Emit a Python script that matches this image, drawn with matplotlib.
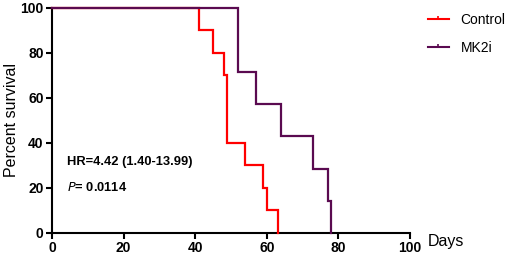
import matplotlib
matplotlib.use("Agg")
import matplotlib.pyplot as plt
from matplotlib.lines import Line2D

plt.rcParams['font.family'] = ['Liberation Sans', 'DejaVu Sans']

# Kaplan-Meier step data (days, percent survival)
control_days = [0, 41, 45, 48, 49, 54, 59, 60, 63]
control_surv = [100, 90, 80, 70, 40, 30, 20, 10, 0]
mk2i_days = [0, 52, 57, 64, 73, 77, 78]
mk2i_surv = [100, 71.4, 57.1, 42.9, 28.6, 14.3, 0]

series_names = ["Control", "MK2i"]
series_colors = ["#FF0000", "#5A0A50"]
x_ticks = [0, 20, 40, 60, 80, 100]
y_ticks = [0, 20, 40, 60, 80, 100]
hr_text = "HR=4.42 (1.40-13.99)"
p_value = "= 0.0114"

fig = plt.figure(figsize=(5.10, 2.56), dpi=100)
ax = fig.add_axes([0.102, 0.090, 0.702, 0.879])

for d, s, c in [(control_days, control_surv, series_colors[0]),
                (mk2i_days, mk2i_surv, series_colors[1])]:
    ax.step(d, s, where='post', color=c, lw=1.6, solid_joinstyle='miter', clip_on=False, zorder=3)

ax.set_xlim(0, 100)
ax.set_ylim(0, 100)
ax.set_xticks(x_ticks)
ax.set_yticks(y_ticks)
for sp in ['top', 'right']:
    ax.spines[sp].set_visible(False)
for sp in ['left', 'bottom']:
    ax.spines[sp].set_linewidth(1.5)
ax.tick_params(axis='both', width=1.5, length=4, direction='out', labelsize=10, pad=2)
for lab in ax.get_xticklabels() + ax.get_yticklabels():
    lab.set_fontweight('bold')

ax.set_ylabel("Percent survival", fontsize=11.5, labelpad=1)
fig.text(0.838, 0.058, "Days", fontsize=11.5, ha='left', va='center')

ax.text(4.2, 31.5, hr_text, fontsize=9.3, fontweight='bold', va='center', ha='left')
ax.text(4.2, 20, "$\\mathbf{\\mathit{P}}$" + p_value, fontsize=9.3, fontweight='bold', va='center', ha='left')

handles = [Line2D([], [], color=c, lw=1.5, marker=[(0, 0), (0, 1)], markersize=5,
                  markeredgewidth=1.2) for c in series_colors]
leg = fig.legend(handles, series_names, loc='upper left', bbox_to_anchor=(0.839, 0.948),
                 frameon=False, fontsize=10, handlelength=1.5, handletextpad=0.85,
                 labelspacing=0.95, borderpad=0, borderaxespad=0, numpoints=1)

fig.savefig("out.png", dpi=100)
